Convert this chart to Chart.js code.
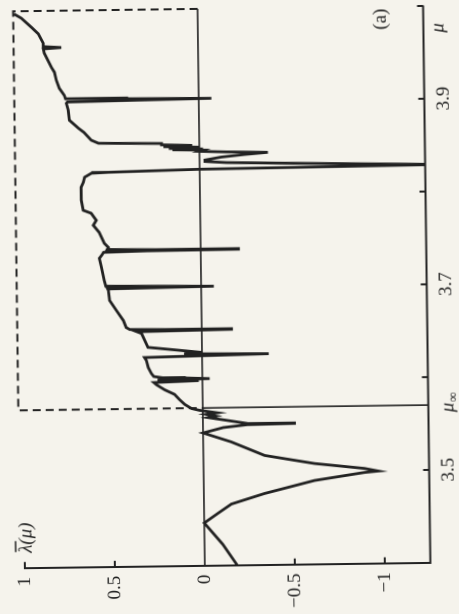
<!DOCTYPE html>
<html>
<head>
<meta charset="utf-8">
<script src="https://cdn.jsdelivr.net/npm/chart.js@4.4.0/dist/chart.umd.min.js"></script>
<style>
html,body{margin:0;padding:0;width:459px;height:614px;overflow:hidden;background:#f5f3ec;}
#wrap{position:absolute;width:614px;height:459px;left:-77.5px;top:77.5px;transform:rotate(-90.75deg);transform-origin:50% 50%;}
canvas{display:block;}
</style>
</head>
<body>
<div id="wrap"><canvas id="c" width="614" height="459"></canvas></div>
<script>
// ---- data (mu = control parameter, lambda = Lyapunov exponent) ----
const muCurve = [
  3.400, 3.423, 3.446, 3.456, 3.466, 3.4769, 3.4902, 3.4982, 3.4995, 3.5025, 3.5085, 3.5179, 3.533, 3.543,
  3.5485, 3.5513, 3.5520, 3.5525, 3.5595, 3.561, 3.563, 3.5645, 3.566, 3.5675,
  3.5695, 3.574, 3.5795, 3.585, 3.590, 3.5956,
  3.598, 3.5995, 3.6005, 3.6015, 3.6025, 3.603, 3.6045,
  3.6078, 3.6143, 3.6219, 3.6251, 3.6275, 3.6285, 3.6298, 3.636,
  3.6511, 3.653, 3.6543, 3.6550, 3.6555, 3.6577, 3.6653, 3.6762, 3.6871, 3.6978,
  3.6995, 3.701, 3.7025, 3.7086, 3.7228, 3.7326, 3.736,
  3.739, 3.7400, 3.7405, 3.7412, 3.742, 3.7443, 3.7487, 3.7606, 3.7683, 3.7736, 3.7813, 3.7846, 3.7955,
  3.8094, 3.8148, 3.8202, 3.8244, 3.8252, 3.8272, 3.8290, 3.832, 3.834, 3.8355, 3.837,
  3.840, 3.8425, 3.8445, 3.8455, 3.8465, 3.8478, 3.8485, 3.849, 3.850, 3.851, 3.852, 3.853, 3.854, 3.8555, 3.8566,
  3.860, 3.8685, 3.873, 3.8818, 3.8926, 3.9001,
  3.9015, 3.9025, 3.9035, 3.9042, 3.905, 3.9088, 3.9164, 3.9251, 3.9338, 3.9393, 3.9545,
  3.959, 3.9603, 3.9615, 3.9651, 3.9754, 3.9826, 3.9925, 3.997
];
const lambdaCurve = [
  -0.18, -0.10, 0.00, -0.075, -0.152, -0.337, -0.615, -0.894, -0.97, -0.894, -0.617, -0.34, -0.155, 0.0,
  -0.112, -0.246, -0.508, -0.25, -0.03, -0.07, -0.02, -0.08, -0.03, 0.02,
  0.063, 0.10, 0.13, 0.156, 0.21, 0.256,
  0.27, 0.02, 0.25, -0.04, 0.10, 0.22, 0.27,
  0.283, 0.30, 0.31, 0.32, -0.37, 0.10, 0.0, 0.30,
  0.335, 0.36, -0.165, 0.20, 0.40, 0.42, 0.435, 0.473, 0.51, 0.516,
  0.52, -0.07, 0.53, 0.538, 0.553, 0.564, 0.55,
  0.54, 0.30, -0.21, 0.25, 0.52, 0.513, 0.535, 0.563, 0.595, 0.578, 0.606, 0.65, 0.66,
  0.66, 0.647, 0.64, 0.602, 0.508, 0.0, -1.35, -0.6, -0.15, -0.03, -0.03,
  -0.12, -0.25, -0.38, -0.15, 0.0, -0.02, 0.15, -0.02, 0.17, 0.0, 0.20, 0.04, 0.21, 0.21, 0.56,
  0.60, 0.64, 0.67, 0.72, 0.726, 0.736,
  0.73, 0.35, -0.07, 0.40, 0.74, 0.747, 0.774, 0.79, 0.80, 0.817, 0.855,
  0.86, 0.76, 0.86, 0.86, 0.887, 0.925, 0.98, 1.02
];
const muTicks = [3.5, 3.6, 3.7, 3.8, 3.9, 4.0];
const muTickLabels = ['3.5', '', '3.7', '', '3.9', ''];
const lambdaTicks = [-1, -0.5, 0, 0.5, 1];
const lambdaTickLabels = ['\u22121', '\u22120.5', '0', '0.5', '1'];
const muRange = [3.4, 4.0];
const lambdaRange = [-1.253, 1.0];
const muInfinity = 3.5699;
const boxMu = [4.0, 4.0, 3.5699, 3.5699];
const boxLambda = [0, 1.025, 1.025, 0];
const zeroLineMu = [3.4, 4.0];
const zeroLineLambda = [0, 0];
const muInfLineMu = [3.5699, 3.5699];
const muInfLineLambda = [0, -1.253];

const INK = '#222';
const FONT = '"Liberation Serif", "DejaVu Serif", serif';
const pts = (xs, ys) => xs.map((x, i) => ({x: x, y: ys[i]}));

const annot = {
  id: 'annot',
  afterDraw(chart) {
    const ctx = chart.ctx, xs = chart.scales.x, ys = chart.scales.y;
    const area = chart.chartArea;
    ctx.save();
    ctx.strokeStyle = INK; ctx.fillStyle = INK; ctx.lineWidth = 2;
    muTicks.forEach(v => {
      const px = xs.getPixelForValue(v);
      ctx.beginPath(); ctx.moveTo(px, area.bottom); ctx.lineTo(px, area.bottom - 6); ctx.stroke();
    });
    lambdaTicks.forEach(v => {
      if (v === 0) return;
      const py = ys.getPixelForValue(v);
      ctx.beginPath(); ctx.moveTo(area.left, py); ctx.lineTo(area.left + 6, py); ctx.stroke();
    });
    ctx.font = 'italic 19px ' + FONT;
    ctx.textBaseline = 'alphabetic'; ctx.textAlign = 'left';
    const lx = area.left + 15, ly = area.top + 7;
    ctx.fillText('\u03bb(\u03bc)', lx, ly);
    ctx.lineWidth = 1.5;
    ctx.beginPath(); ctx.moveTo(lx + 1, ly - 16); ctx.lineTo(lx + 12, ly - 16); ctx.stroke();
    const base = area.bottom + 20;
    ctx.fillText('\u03bc', xs.getPixelForValue(3.971), base);
    const mx = xs.getPixelForValue(3.562);
    ctx.fillText('\u03bc', mx, area.bottom + 25);
    ctx.font = '14px ' + FONT;
    ctx.fillText('\u221e', mx + 10, area.bottom + 29);
    ctx.font = '19px ' + FONT;
    ctx.fillText('(a)', xs.getPixelForValue(3.975), ys.getPixelForValue(-1.045));
    ctx.restore();
  }
};

new Chart(document.getElementById('c'), {
  type: 'scatter',
  data: {
    datasets: [
      { data: pts(muCurve, lambdaCurve), showLine: true, borderColor: INK, borderWidth: 2.8,
        pointRadius: 0, tension: 0, clip: {left: 0, top: false, right: 0, bottom: 0} },
      { data: pts(zeroLineMu, zeroLineLambda), showLine: true, borderColor: INK, borderWidth: 1.6, pointRadius: 0 },
      { data: pts(muInfLineMu, muInfLineLambda), showLine: true, borderColor: INK, borderWidth: 1.6, pointRadius: 0 },
      { data: pts(boxMu, boxLambda), showLine: true, borderColor: INK, borderWidth: 2, borderDash: [8, 5],
        pointRadius: 0, clip: false }
    ]
  },
  options: {
    responsive: false,
    animation: false,
    devicePixelRatio: 2,
    layout: { padding: { left: 0, top: 21, right: 7.9, bottom: 0 } },
    plugins: { legend: { display: false }, tooltip: { enabled: false } },
    scales: {
      x: {
        type: 'linear', position: 'bottom', min: muRange[0], max: muRange[1],
        grid: { display: false, drawTicks: false },
        border: { display: true, color: INK, width: 2 },
        afterBuildTicks: s => { s.ticks = muTicks.map(v => ({ value: v })); },
        afterFit: s => { s.height = 32.5; },
        ticks: { autoSkip: false, maxRotation: 0, padding: 8, color: INK,
          font: { family: FONT, size: 19 },
          callback: (v, i) => muTickLabels[i] }
      },
      y: {
        type: 'linear', position: 'left', min: lambdaRange[0], max: lambdaRange[1],
        grid: { display: false, drawTicks: false },
        border: { display: true, color: INK, width: 2 },
        afterBuildTicks: s => { s.ticks = lambdaTicks.map(v => ({ value: v })); },
        afterFit: s => { s.width = 49.2; },
        ticks: { autoSkip: false, padding: 9, color: INK,
          font: { family: FONT, size: 19 },
          callback: (v, i) => lambdaTickLabels[i] }
      }
    }
  },
  plugins: [annot]
});
</script>
</body>
</html>
